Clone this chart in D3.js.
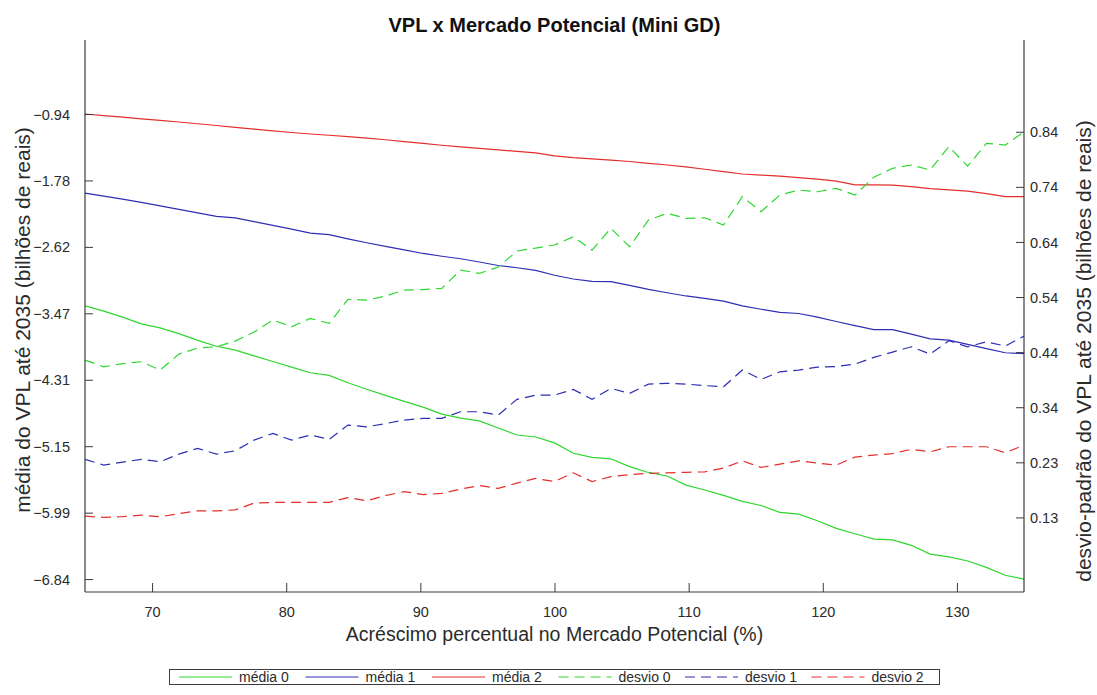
<!DOCTYPE html>
<html>
<head>
<meta charset="utf-8">
<script src="https://cdn.jsdelivr.net/npm/d3@7"></script>
<style>
  body { margin: 0; background: #fff; }
  text { font-family: "Liberation Sans", Arial, Helvetica, sans-serif; fill: #2b2b2b; }
</style>
</head>
<body>
<svg id="chart" width="1097" height="695"></svg>
<script>
// Acréscimo percentual no Mercado Potencial (%)
const acrescimo = [65, 66.4, 67.8, 69.2, 70.6, 72, 73.4, 74.8, 76.2, 77.6, 79, 80.4, 81.8, 83.2, 84.6,
  86, 87.4, 88.8, 90.2, 91.6, 93, 94.4, 95.8, 97.2, 98.6, 100, 101.4, 102.8, 104.2, 105.6, 107,
  108.4, 109.8, 111.2, 112.6, 114, 115.4, 116.8, 118.2, 119.6, 121, 122.4, 123.8, 125.2, 126.6,
  128, 129.4, 130.8, 132.2, 133.6, 135];

// média do VPL até 2035 (bilhões de reais)
const media0 = [-3.372, -3.439, -3.514, -3.600, -3.651, -3.723, -3.809, -3.884, -3.933, -4.005,
  -4.077, -4.149, -4.220, -4.253, -4.347, -4.429, -4.507, -4.583, -4.656, -4.745,
  -4.796, -4.831, -4.920, -5.009, -5.034, -5.109, -5.241, -5.292, -5.311, -5.410,
  -5.484, -5.529, -5.644, -5.707, -5.774, -5.850, -5.903, -5.991, -6.012, -6.096,
  -6.193, -6.261, -6.330, -6.339, -6.408, -6.520, -6.554, -6.607, -6.688, -6.788, -6.836];
const media1 = [-1.942, -1.980, -2.017, -2.059, -2.103, -2.149, -2.192, -2.237, -2.256, -2.303,
  -2.350, -2.398, -2.449, -2.469, -2.521, -2.571, -2.617, -2.662, -2.707, -2.742,
  -2.774, -2.815, -2.860, -2.888, -2.921, -2.983, -3.031, -3.060, -3.064, -3.112,
  -3.162, -3.205, -3.246, -3.276, -3.312, -3.372, -3.414, -3.453, -3.468, -3.514,
  -3.570, -3.622, -3.672, -3.672, -3.730, -3.790, -3.806, -3.860, -3.914, -3.966, -3.976];
const media2 = [-0.9385, -0.959, -0.979, -1.000, -1.020, -1.040, -1.062, -1.084, -1.107, -1.130,
  -1.153, -1.173, -1.192, -1.208, -1.226, -1.244, -1.265, -1.289, -1.312, -1.335,
  -1.355, -1.375, -1.394, -1.413, -1.432, -1.469, -1.491, -1.507, -1.523, -1.541,
  -1.564, -1.585, -1.608, -1.639, -1.670, -1.699, -1.713, -1.726, -1.745, -1.765,
  -1.790, -1.837, -1.837, -1.840, -1.860, -1.884, -1.901, -1.917, -1.949, -1.985, -1.985];

// desvio-padrão do VPL até 2035 (bilhões de reais)
const desvio0 = [0.4221, 0.4098, 0.4157, 0.4190, 0.4037, 0.4332, 0.4443, 0.4467, 0.4572, 0.4738,
  0.4960, 0.4836, 0.4991, 0.4899, 0.5342, 0.5329, 0.5403, 0.5514, 0.5523, 0.5545,
  0.5883, 0.5822, 0.5938, 0.6234, 0.6289, 0.6345, 0.6498, 0.6252, 0.6653, 0.6313,
  0.6806, 0.6930, 0.6838, 0.6849, 0.6714, 0.7237, 0.6960, 0.7268, 0.7360, 0.7329,
  0.7392, 0.7268, 0.7595, 0.7761, 0.7822, 0.7730, 0.8160, 0.7803, 0.8223, 0.8191, 0.8436];
const desvio1 = [0.2388, 0.2283, 0.2338, 0.2388, 0.2344, 0.2486, 0.2591, 0.2486, 0.2547, 0.2744,
  0.2868, 0.2744, 0.2837, 0.2757, 0.3021, 0.2990, 0.3049, 0.3114, 0.3145, 0.3145,
  0.3267, 0.3267, 0.3206, 0.3496, 0.3575, 0.3575, 0.3680, 0.3496, 0.3699, 0.3607,
  0.3778, 0.3791, 0.3778, 0.3751, 0.3728, 0.4037, 0.3865, 0.4005, 0.4037, 0.4092,
  0.4101, 0.4147, 0.4271, 0.4369, 0.4467, 0.4332, 0.4578, 0.4467, 0.4559, 0.4480, 0.4664];
const desvio2 = [0.1341, 0.1317, 0.1332, 0.1359, 0.1328, 0.1387, 0.1439, 0.1439, 0.1455, 0.1581,
  0.1594, 0.1594, 0.1594, 0.1594, 0.1683, 0.1623, 0.1720, 0.1793, 0.1738, 0.1760,
  0.1840, 0.1904, 0.1852, 0.1950, 0.2037, 0.1978, 0.2140, 0.1978, 0.2070, 0.2107,
  0.2131, 0.2140, 0.2150, 0.2159, 0.2227, 0.2362, 0.2240, 0.2301, 0.2362, 0.2320,
  0.2283, 0.2430, 0.2467, 0.2495, 0.2573, 0.2528, 0.2621, 0.2621, 0.2621, 0.2510, 0.2652];

// Tick values of the three axes
const xTicks = [70, 80, 90, 100, 110, 120, 130];
const leftTicks = [-6.836, -5.9935, -5.151, -4.3085, -3.466, -2.6235, -1.781, -0.9385];
const rightTicks = [0.1317, 0.2334, 0.3351, 0.4368, 0.5385, 0.6402, 0.7419, 0.8436];

const seriesNames = ["média 0", "média 1", "média 2", "desvio 0", "desvio 1", "desvio 2"];

const plot = { left: 85, right: 1024, top: 40, bottom: 592 };
const colors = { g: "#2fd62f", b: "#2e2eb4", r: "#e52e2e" };
const axisColor = "#3c3c3c";
const dash = "10,6";

const svg = d3.select("#chart");

const x = d3.scaleLinear().domain([65, 135]).range([plot.left, plot.right]);
const yL = d3.scaleLinear().domain([-7, 0]).range([plot.bottom, plot.top]);
const yR = d3.scaleLinear().domain([-0.006, 1.013]).range([plot.bottom, plot.top]);

const series = [
  { name: seriesNames[0], values: media0, axis: yL, color: colors.g, dashed: false },
  { name: seriesNames[1], values: media1, axis: yL, color: colors.b, dashed: false },
  { name: seriesNames[2], values: media2, axis: yL, color: colors.r, dashed: false },
  { name: seriesNames[3], values: desvio0, axis: yR, color: colors.g, dashed: true },
  { name: seriesNames[4], values: desvio1, axis: yR, color: colors.b, dashed: true },
  { name: seriesNames[5], values: desvio2, axis: yR, color: colors.r, dashed: true }
];

// Data lines
const gLines = svg.append("g");
series.forEach(s => {
  const line = d3.line().x((d, i) => x(acrescimo[i])).y(d => s.axis(d));
  gLines.append("path")
    .datum(s.values)
    .attr("d", line)
    .attr("fill", "none")
    .attr("stroke", s.color)
    .attr("stroke-width", 1.2)
    .attr("stroke-dasharray", s.dashed ? dash : null);
});

// Axes
const fmt = d3.format(".2f");
const tickFont = 14.5;

const xAxis = d3.axisBottom(x).tickValues(xTicks).tickSize(-9).tickPadding(0).tickFormat(d3.format("d"));
const gx = svg.append("g").attr("transform", `translate(0,${plot.bottom})`).call(xAxis);

const leftAxis = d3.axisLeft(yL).tickValues(leftTicks).tickSize(-8).tickPadding(0).tickFormat(fmt);
const gl = svg.append("g").attr("transform", `translate(${plot.left},0)`).call(leftAxis);

const rightAxis = d3.axisRight(yR).tickValues(rightTicks).tickSize(-8).tickPadding(0).tickFormat(fmt);
const gr = svg.append("g").attr("transform", `translate(${plot.right},0)`).call(rightAxis);

[gx, gl, gr].forEach(g => {
  g.select(".domain").remove();
  g.selectAll(".tick line").attr("stroke", axisColor).attr("stroke-width", 1);
  g.selectAll(".tick text").attr("font-size", tickFont).attr("fill", "#3a3a3a");
});
gx.selectAll(".tick text").attr("y", 15);
gl.selectAll(".tick text").attr("x", -15).attr("dy", "0.35em");
gr.selectAll(".tick text").attr("x", 6).attr("dy", "0.35em");

// Axis frame: left, right and bottom edges
const frame = svg.append("g").attr("stroke", axisColor).attr("stroke-width", 1.2).attr("fill", "none");
frame.append("line").attr("x1", plot.left).attr("x2", plot.left).attr("y1", plot.top).attr("y2", plot.bottom);
frame.append("line").attr("x1", plot.right).attr("x2", plot.right).attr("y1", plot.top).attr("y2", plot.bottom);
frame.append("line").attr("x1", plot.left).attr("x2", plot.right).attr("y1", plot.bottom).attr("y2", plot.bottom);

// Title and axis labels
svg.append("text")
  .attr("x", (plot.left + plot.right) / 2).attr("y", 32)
  .attr("text-anchor", "middle").attr("font-size", 20).attr("font-weight", "bold")
  .style("fill", "#111")
  .text("VPL x Mercado Potencial (Mini GD)");

svg.append("text")
  .attr("x", (plot.left + plot.right) / 2).attr("y", 641)
  .attr("text-anchor", "middle").attr("font-size", 19.5)
  .text("Acréscimo percentual no Mercado Potencial (%)");

svg.append("text")
  .attr("transform", "translate(23,320) rotate(-90)")
  .attr("text-anchor", "middle").attr("dy", "0.35em").attr("font-size", 21)
  .text("média do VPL até 2035 (bilhões de reais)");

svg.append("text")
  .attr("transform", "translate(1084,351) rotate(-90)")
  .attr("text-anchor", "middle").attr("dy", "0.35em").attr("font-size", 21)
  .text("desvio-padrão do VPL até 2035 (bilhões de reais)");

// Legend
const legend = svg.append("g");
legend.append("rect")
  .attr("x", 169.5).attr("y", 669.5).attr("width", 770).attr("height", 15)
  .attr("fill", "#fff").attr("stroke", axisColor).attr("stroke-width", 1);
series.forEach((s, i) => {
  const x0 = 179 + i * 126.5;
  legend.append("line")
    .attr("x1", x0).attr("x2", x0 + 53).attr("y1", 677).attr("y2", 677)
    .attr("stroke", s.color).attr("stroke-width", 1.2)
    .attr("stroke-dasharray", s.dashed ? dash : null);
  legend.append("text")
    .attr("x", x0 + 60).attr("y", 677).attr("dy", "0.35em")
    .attr("font-size", 14)
    .text(s.name);
});
</script>
</body>
</html>
